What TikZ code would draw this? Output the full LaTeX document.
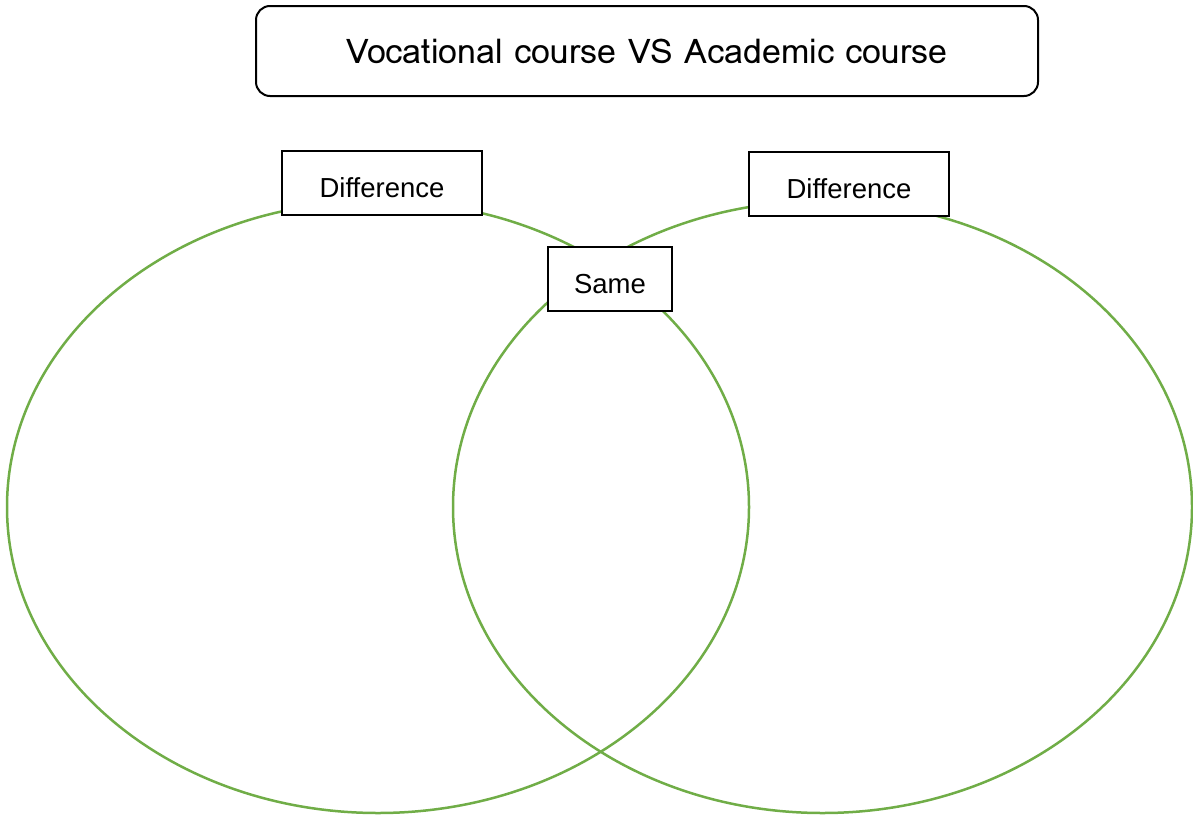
\documentclass[tikz,border=0pt]{standalone}
\usepackage{fontspec}
\setmainfont{Liberation Sans}
\newfontfamily\titlefont{Loma}
\begin{document}
\begin{tikzpicture}[x=1pt,y=-1pt,
  venn/.style={draw=vgreen,line width=2.5pt},
  labelbox/.style={draw=black,line width=2pt,fill=white,inner sep=0pt,text height=28pt,text depth=0pt,font=\fontsize{27.5}{32}\selectfont},
  titlebox/.style={draw=black,line width=2pt,rounded corners=14pt,inner sep=0pt,font=\titlefont\fontsize{34}{40}\selectfont}]
\definecolor{vgreen}{RGB}{112,173,71}
\useasboundingbox (0,0) rectangle (1193,814);
% the two overlapping sets
\draw[venn] (378,507) ellipse [x radius=371, y radius=306];
\draw[venn] (822.5,507) ellipse [x radius=369.5, y radius=306];
% heading
\node[titlebox,minimum width=782pt,minimum height=90pt] (title) at (647,51) {Vocational course VS Academic course};
% region labels
\node[labelbox,minimum width=200pt,minimum height=64pt] (diffL) at (382,183) {Difference};
\node[labelbox,minimum width=200pt,minimum height=64pt] (diffR) at (849,184) {Difference};
\node[labelbox,minimum width=124pt,minimum height=64pt] (same) at (610,279) {Same};
\end{tikzpicture}
\end{document}
